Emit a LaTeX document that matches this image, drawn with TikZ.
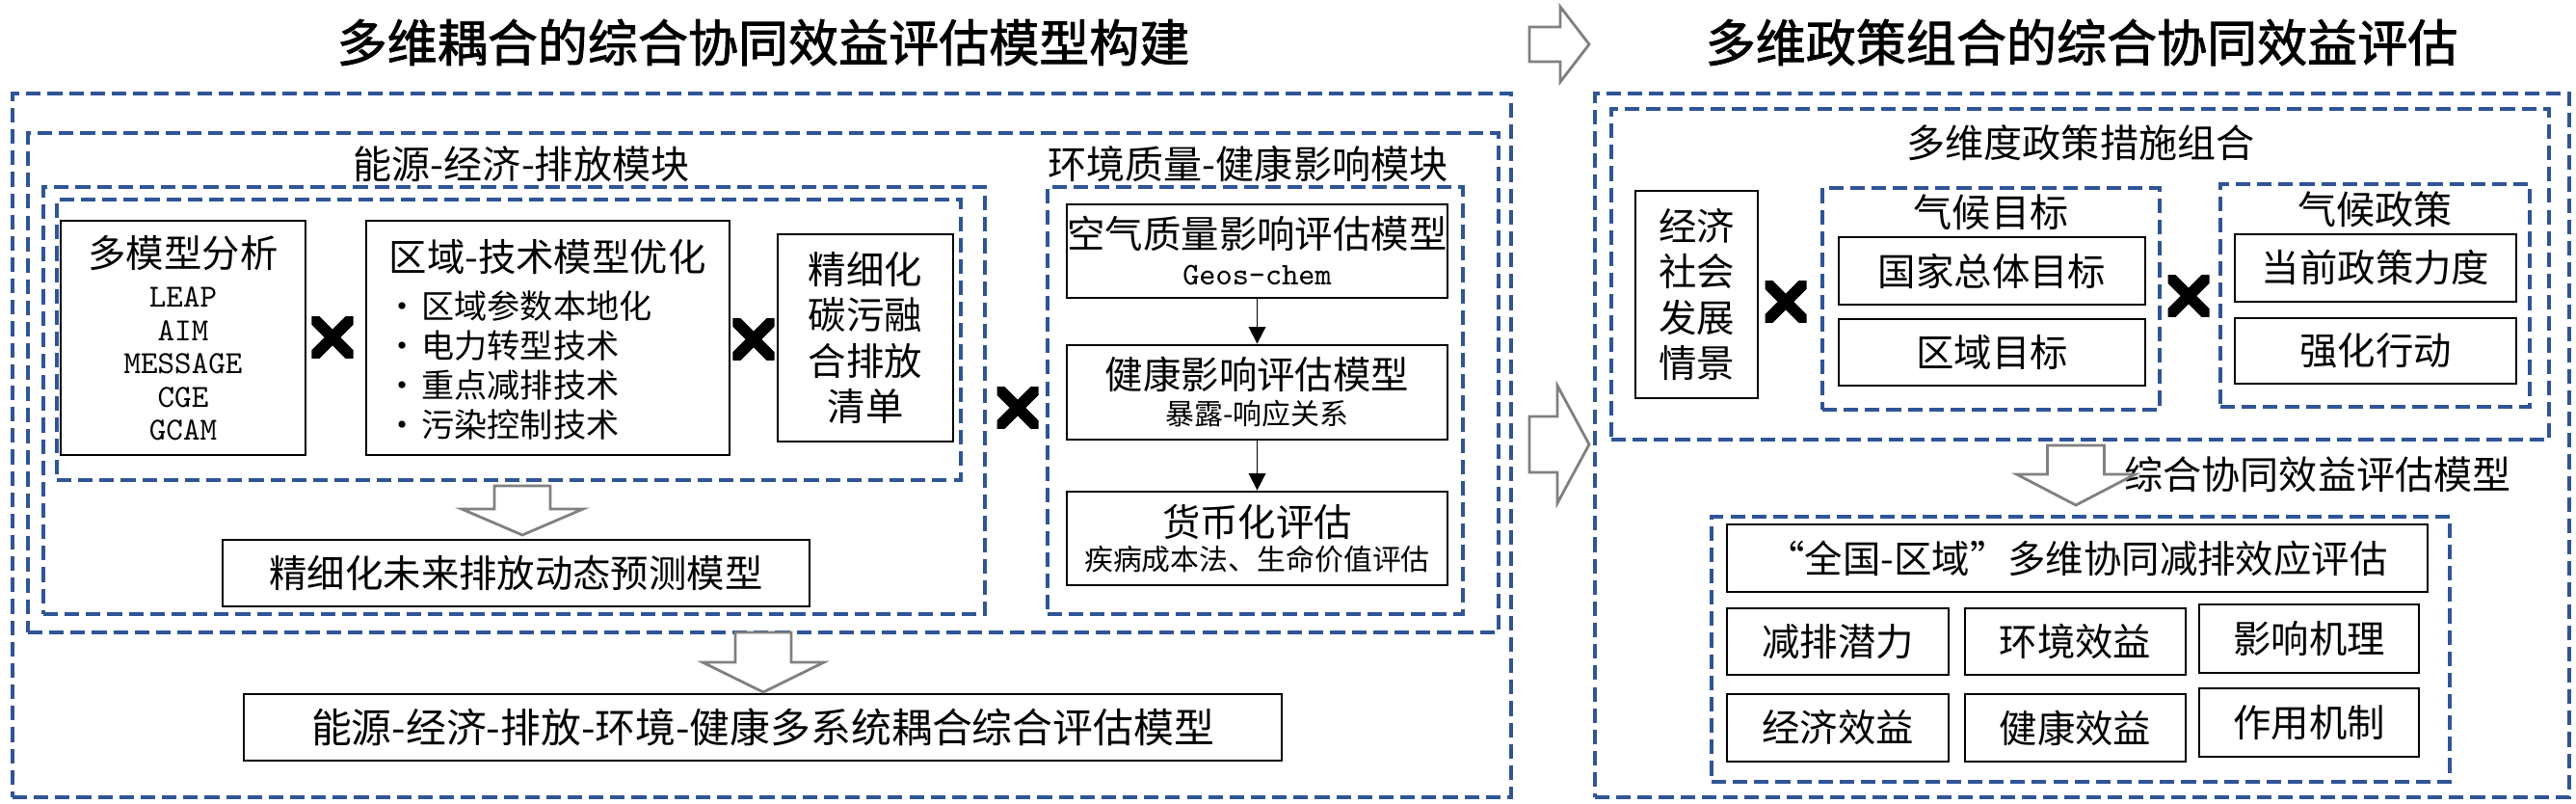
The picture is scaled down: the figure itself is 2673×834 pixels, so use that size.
\documentclass[tikz,border=0pt]{standalone}
\usepackage{fontspec}
\setmainfont{Noto Sans CJK SC}
\newfontfamily\titlefont{Noto Sans CJK SC}[FakeBold=1.6]
\newcommand{\lat}{\ttfamily\addfontfeatures{FakeStretch=0.85}}
\usetikzlibrary{arrows.meta}

\definecolor{dashblue}{RGB}{47,85,151}
\definecolor{arrowgray}{RGB}{128,128,128}

\tikzset{
    kasten/.style={draw, line width=0.8pt, inner sep=0pt, align=center, font=\fontsize{11.2}{13.4}\selectfont},
    rahmen/.style={draw=dashblue, line width=1pt, dash pattern=on 4.3pt off 2pt, inner sep=0pt},
    beschr/.style={inner sep=0pt, font=\fontsize{11.4}{13}\selectfont},
    titel/.style={inner sep=0pt, font=\titlefont\fontsize{14.8}{16}\selectfont},
    sz/.style 2 args={minimum width=#1*0.01cm, minimum height=#2*0.01cm},
    mal/.style={minimum size=0.43cm, inner sep=0pt,
        path picture={\draw[line width=3.4pt] (path picture bounding box.north west) -- (path picture bounding box.south east)
            (path picture bounding box.south west) -- (path picture bounding box.north east);}},
    pfeil/.style={line width=0.5pt, -{Triangle[length=5pt,width=5pt]}},
    blockpfeil/.style={draw=arrowgray, line width=0.8pt, fill=white}
}

\newcommand{\itm}{\makebox[10.5pt][l]{\textbullet}}
\newcommand{\blockarrow}[6]{%
    \draw[blockpfeil, shift={#1}, rotate=#2]
        (0,#5) -- ({#3-#4},#5) -- ({#3-#4},#6) -- (#3,0) -- ({#3-#4},-#6) -- ({#3-#4},-#5) -- (0,-#5) -- cycle;}

\begin{document}
\begin{tikzpicture}[x=0.01cm, y=-0.01cm]
    \useasboundingbox (0,0) rectangle (2673,834);

    \path node[titel] (ttlL) at (792,44) {多维耦合的综合协同效益评估模型构建}
        node[titel] (ttlR) at (2160,44) {多维政策组合的综合协同效益评估};

    \path node[rahmen, sz={1555}{730}] (left) at (790.5,462) {}
        node[rahmen, sz={1526}{518}] (modules) at (792,397) {}
        node[rahmen, sz={977}{443}] (emis) at (533.5,415.5) {}
        node[rahmen, sz={938}{291}] (coupling) at (528,352.5) {}
        node[rahmen, sz={431}{443}] (env) at (1302.5,415.5) {}
        node[beschr] (emislbl) at (541,170) {能源-经济-排放模块}
        node[beschr] (envlbl) at (1295,170) {环境质量-健康影响模块};

    \path node[kasten, sz={254}{243}, font=\fontsize{11.2}{9.8}\selectfont] (multi) at (190,350.5)
            {多模型分析\\[2pt]{\lat\fontsize{9.5}{9.8}\selectfont LEAP}\\{\lat\fontsize{9.5}{9.8}\selectfont AIM}\\
             {\lat\fontsize{9.5}{9.8}\selectfont MESSAGE}\\{\lat\fontsize{9.5}{9.8}\selectfont CGE}\\{\lat\fontsize{9.5}{9.8}\selectfont GCAM}}
        node[kasten, sz={377}{243}] (region) at (568.5,350.5) {}
        node[inner sep=0pt, font=\fontsize{11.2}{13.4}\selectfont] (regionttl) at (568,267) {区域-技术模型优化}
        node[inner sep=0pt, anchor=west, align=left, font=\fontsize{9.7}{11.7}\selectfont] (regionlist) at (400,379)
            {\itm 区域参数本地化\\\itm 电力转型技术\\\itm 重点减排技术\\\itm 污染控制技术}
        node[kasten, sz={182}{215}] (inventory) at (898,350.5) {精细化\\碳污融\\合排放\\清单}
        node[mal] (x1) at (345,350) {}
        node[mal] (x2) at (782,352) {}
        node[kasten, sz={609}{69}] (future) at (535.5,594.5) {精细化未来排放动态预测模型};

    \path node[kasten, sz={395}{97}, font=\fontsize{11.2}{10.8}\selectfont] (air) at (1304.5,260.5)
            {空气质量影响评估模型\\{\lat\fontsize{9.3}{9}\selectfont Geos-chem}}
        node[kasten, sz={395}{98}, font=\fontsize{11.2}{10.5}\selectfont] (health) at (1304.5,407)
            {健康影响评估模型\\{\fontsize{8.5}{9}\selectfont 暴露-响应关系}}
        node[kasten, sz={395}{97}, font=\fontsize{11.2}{10}\selectfont] (money) at (1304.5,558.5)
            {货币化评估\\{\fontsize{8.5}{9}\selectfont 疾病成本法、生命价值评估}}
        node[mal] (x3) at (1056,423) {};
    \draw[pfeil] (air) -- (health);
    \draw[pfeil] (health) -- (money);

    \path node[kasten, sz={1077}{69}, font=\fontsize{11.9}{13.4}\selectfont] (system) at (791.5,754.5)
            {能源-经济-排放-环境-健康多系统耦合综合评估模型};

    \path node[rahmen, sz={1011}{730}] (right) at (2160.5,462) {}
        node[rahmen, sz={973}{343}] (policy) at (2158.5,284.5) {}
        node[beschr] (policylbl) at (2159,148) {多维度政策措施组合}
        node[kasten, sz={127}{215}] (scen) at (1760.5,305.5) {经济\\社会\\发展\\情景}
        node[mal] (x4) at (1853,313) {}
        node[rahmen, sz={350}{230}] (goal) at (2066,310) {}
        node[beschr] (goallbl) at (2066,220) {气候目标}
        node[kasten, sz={318}{70}] (nat) at (2067,281) {国家总体目标}
        node[kasten, sz={318}{69}] (reg) at (2067,365.5) {区域目标}
        node[mal] (x5) at (2271,307) {}
        node[rahmen, sz={321}{231}] (pol) at (2464.5,306.5) {}
        node[beschr] (pollbl) at (2464.5,217) {气候政策}
        node[kasten, sz={292}{70}] (cur) at (2465,278) {当前政策力度}
        node[kasten, sz={292}{68}] (act) at (2465,364) {强化行动};

    \path node[beschr] (evallbl) at (2405,492) {综合协同效益评估模型}
        node[rahmen, sz={766}{275}] (result) at (2159,673.5) {}
        node[kasten, sz={727}{70}] (whole) at (2155.5,579) {“全国-区域”多维协同减排效应评估}
        node[kasten, sz={230}{69}] (pot) at (1907,665.5) {减排潜力}
        node[kasten, sz={229}{69}] (envb) at (2153.5,665.5) {环境效益}
        node[kasten, sz={228}{71}] (mech) at (2396,662.5) {影响机理}
        node[kasten, sz={230}{70}] (econ) at (1907,755) {经济效益}
        node[kasten, sz={229}{70}] (hlth) at (2153.5,755) {健康效益}
        node[kasten, sz={228}{71}] (role) at (2396,749.5) {作用机制};

    \blockarrow{(1587,46)}{0}{62}{30}{18}{39}
    \blockarrow{(1587,461)}{0}{62}{33}{29}{61}
    \blockarrow{(542,504)}{-90}{51}{27}{29}{63}
    \blockarrow{(792,656)}{-90}{62}{31}{29}{63}
    \blockarrow{(2154,462)}{-90}{62}{32}{29.5}{61.5}
\end{tikzpicture}
\end{document}
